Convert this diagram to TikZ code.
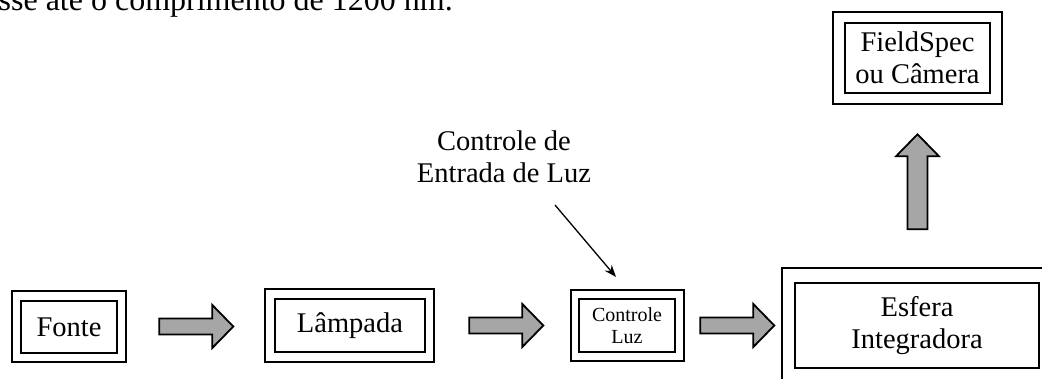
\documentclass[tikz,border=0pt]{standalone}
\usepackage{fontspec}
\setmainfont{Liberation Serif}
\usetikzlibrary{arrows.meta,calc}
\definecolor{arrowgray}{RGB}{166,166,166}
\tikzset{
  box/.style={draw, line width=2.6pt, inner sep=0pt, align=center},
  frame/.style={draw, line width=2.6pt, inner sep=0pt},
  blk/.style={draw, line width=1.8pt, fill=arrowgray, line join=miter},
  main/.style={font=\fontsize{28.5}{32}\selectfont},
  small/.style={font=\fontsize{20}{22}\selectfont},
  rarr/.pic={\path[blk] (0,-8) -- (53,-8) -- (53,-21.5) -- (74,0) -- (53,21.5) -- (53,8) -- (0,8) -- cycle;},
  uarr/.pic={\path[blk] (-10,0) -- (-10,-73) -- (-21.5,-73) -- (0,-95) -- (21.5,-73) -- (10,-73) -- (10,0) -- cycle;},
}
\begin{document}
\begin{tikzpicture}[x=1pt, y=-1pt]
\useasboundingbox (0,0) rectangle (1042,378);
\clip (0,0) rectangle (1042,378);

% cut-off running text at the top
\node[font=\fontsize{32}{36}\selectfont, anchor=base east, inner sep=0pt] (toptext) at (453,10) {sse até o comprimento de 1200 nm.};

% Fonte
\node[frame, minimum width=114pt, minimum height=71pt] (fonteO) at (69,326.5) {};
\node[box, main, minimum width=96pt, minimum height=52pt] (fonte) at (69,327) {Fonte};

% Lampada
\node[frame, minimum width=169pt, minimum height=73pt] (lampO) at (349.5,325.5) {};
\node[box, main, minimum width=150pt, minimum height=53pt] (lamp) at (350,325.5) {Lâmpada};

% Controle Luz
\node[frame, minimum width=113pt, minimum height=71pt] (ctrlO) at (627.5,325.5) {};
\node[box, small, minimum width=96pt, minimum height=53pt] (ctrl) at (627,325.5) {Controle\\Luz};

% Esfera Integradora (outer frame runs off the picture)
\node[frame, minimum width=278pt, minimum height=132pt] (esfO) at (921,334) {};
\node[box, main, minimum width=244pt, minimum height=85pt] (esf) at (917,325.5) {Esfera\\Integradora};

% FieldSpec
\node[frame, minimum width=169pt, minimum height=92pt] (fsO) at (917.5,58) {};
\node[box, main, minimum width=145pt, minimum height=70pt] (fs) at (917.5,58) {FieldSpec\\ou Câmera};

% block arrows
\pic at ($(fonteO.east)+(32,0)$) {rarr};
\pic at ($(lampO.east)+(34,0)$) {rarr};
\pic at ($(ctrlO.east)+(15,0)$) {rarr};
\pic at ($(fsO.south)+(0,124)$) {uarr};

% label and pointer
\node[main, align=center] (lbl) at (504,157) {Controle de\\Entrada de Luz};
\coordinate (pA) at (555,205);
\coordinate (pB) at (616,277);
\draw[-{Stealth[length=12pt,width=9pt]}, line width=1.3pt] (pA) -- (pB);
\end{tikzpicture}
\end{document}
